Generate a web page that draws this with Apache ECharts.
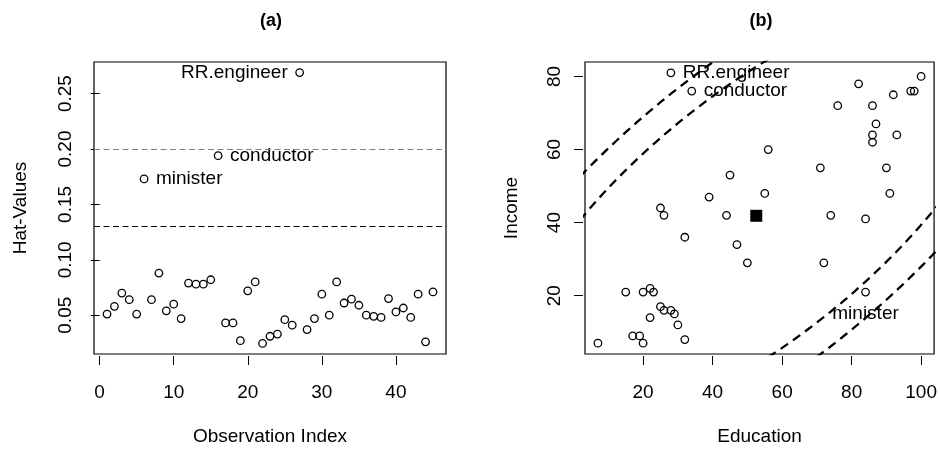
<!DOCTYPE html>
<html>
<head>
<meta charset="utf-8">
<script src="https://cdn.jsdelivr.net/npm/echarts@6/dist/echarts.min.js"></script>
<style>
  html, body { margin: 0; padding: 0; background: #fff; }
  #chart { width: 940px; height: 451px; }
</style>
</head>
<body>
<div id="chart"></div>
<script>
// hat-values, one per occupation (observation index 1..45)
const hatValues = [
  0.051, 0.058, 0.070, 0.064, 0.051, 0.173, 0.064, 0.088, 0.054, 0.060,
  0.047, 0.079, 0.078, 0.078, 0.082, 0.194, 0.043, 0.043, 0.027, 0.072,
  0.080, 0.0245, 0.031, 0.033, 0.046, 0.041, 0.269, 0.037, 0.047, 0.069,
  0.050, 0.080, 0.061, 0.0645, 0.059, 0.050, 0.049, 0.048, 0.065, 0.053,
  0.0565, 0.048, 0.069, 0.026, 0.071
]
// panel (b) data, same order
const education = [
  86, 76, 92, 90, 86, 84, 93, 100, 87, 86, 74, 98, 97, 84, 91, 34, 45, 56, 44, 82,
  72, 55, 71, 50, 23, 39, 28, 32, 22, 25, 29, 7, 26, 19, 15, 20, 26, 28, 17, 22,
  30, 25, 20, 47, 32
]
const income = [
  62, 72, 75, 55, 64, 21, 64, 80, 67, 72, 42, 76, 76, 41, 48, 76, 53, 60, 42, 78,
  29, 48, 55, 29, 21, 47, 81, 36, 22, 44, 15, 7, 42, 9, 21, 21, 16, 16, 9, 14,
  12, 17, 7, 34, 8
]
// labelled observations (1-based index)
const labelIndex = [6, 16, 27]
const labelText = ['minister', 'conductor', 'RR.engineer']
const labelPosA = ['right', 'right', 'left']
const labelPosB = ['bottom', 'right', 'right']

const xTicksA = [0, 10, 20, 30, 40]
const yTicksA = [0.05, 0.10, 0.15, 0.20, 0.25]
const xTicksB = [20, 40, 60, 80, 100]
const yTicksB = [20, 40, 60, 80]

const nCoef = 3
const n = hatValues.length
const hatCutoffs = [2 * nCoef / n, 3 * nCoef / n]

const FONT = 'Liberation Sans, Arial, sans-serif'

const mean = (a) => a.reduce((s, v) => s + v, 0) / a.length

// contour of constant leverage around the means of education and income
const leverageEllipse = (h) => {
  const mx = mean(education)
  const my = mean(income)
  let sxx = 0, syy = 0, sxy = 0
  education.forEach((x, i) => {
    sxx += (x - mx) * (x - mx)
    syy += (income[i] - my) * (income[i] - my)
    sxy += (x - mx) * (income[i] - my)
  })
  sxx /= n - 1; syy /= n - 1; sxy /= n - 1
  const sx = Math.sqrt(sxx), sy = Math.sqrt(syy), r = sxy / (sx * sy)
  const d = Math.sqrt(h * (n - 1))
  const pts = []
  for (let k = 0; k <= 360; k++) {
    const t = (k / 360) * 2 * Math.PI
    pts.push([mx + d * sx * Math.cos(t), my + d * sy * (r * Math.cos(t) + Math.sqrt(1 - r * r) * Math.sin(t))])
  }
  return pts
}

const makeAxis = (opts) => ({
  gridIndex: opts.grid,
  type: 'value',
  min: opts.min,
  max: opts.max,
  offset: 2,
  name: opts.name,
  nameLocation: 'middle',
  nameGap: opts.nameGap,
  nameTextStyle: { fontSize: 19, color: '#000', fontFamily: FONT },
  axisLine: { show: false },
  splitLine: { show: false },
  axisTick: { show: true, length: 9, customValues: opts.ticks, lineStyle: { color: '#000', width: 1 } },
  axisLabel: {
    customValues: opts.ticks,
    margin: opts.margin,
    rotate: opts.rotate || 0,
    fontSize: 19,
    color: '#000',
    fontFamily: FONT,
    formatter: opts.fmt
  }
})

const labelStyle = (pos) => ({
  show: true,
  position: pos,
  distance: pos === 'bottom' ? 8 : 7.5,
  fontSize: 19,
  color: '#000',
  fontFamily: FONT,
  formatter: '{b}'
})

const circle = { color: 'rgba(0,0,0,0)', borderColor: '#000', borderWidth: 1.3, opacity: 1 }

const dataA = hatValues.map((h, i) => {
  const k = labelIndex.indexOf(i + 1)
  const item = { name: k >= 0 ? labelText[k] : '', value: [i + 1, h] }
  if (k >= 0) item.label = labelStyle(labelPosA[k])
  return item
})
const dataB = education.map((e, i) => {
  const k = labelIndex.indexOf(i + 1)
  const item = { name: k >= 0 ? labelText[k] : '', value: [e, income[i]] }
  if (k >= 0) item.label = labelStyle(labelPosB[k])
  return item
})

const chart = echarts.init(document.getElementById('chart'))
const option = {
  animation: false,
  backgroundColor: '#fff',
  title: [
    { text: '(a)', left: 271, top: 12, textAlign: 'center', padding: 0,
      textStyle: { fontSize: 18, fontWeight: 'bold', color: '#000', fontFamily: FONT } },
    { text: '(b)', left: 761, top: 12, textAlign: 'center', padding: 0,
      textStyle: { fontSize: 18, fontWeight: 'bold', color: '#000', fontFamily: FONT } }
  ],
  grid: [
    { left: 94, top: 62, width: 352, height: 295, show: true, borderColor: '#000', borderWidth: 1.2, backgroundColor: 'transparent' },
    { left: 585, top: 62, width: 352, height: 295, show: true, borderColor: '#000', borderWidth: 1.2, backgroundColor: 'transparent' }
  ],
  xAxis: [
    makeAxis({ grid: 0, min: -0.76, max: 46.76, ticks: xTicksA, margin: 27, name: 'Observation Index', nameGap: 71 }),
    makeAxis({ grid: 1, min: 3.28, max: 103.72, ticks: xTicksB, margin: 27, name: 'Education', nameGap: 71 })
  ],
  yAxis: [
    makeAxis({ grid: 0, min: 0.015, max: 0.2785, ticks: yTicksA, margin: 17, rotate: 90, name: 'Hat-Values', nameGap: 62,
      fmt: (v) => v.toFixed(2) }),
    makeAxis({ grid: 1, min: 4.04, max: 83.96, ticks: yTicksB, margin: 19, rotate: 90, name: 'Income', nameGap: 62 })
  ],
  series: [
    {
      type: 'scatter', xAxisIndex: 0, yAxisIndex: 0,
      symbol: 'circle', symbolSize: 7.5, itemStyle: circle,
      data: dataA,
      markLine: {
        silent: true, symbol: ['none', 'none'], label: { show: false },
        data: [
          { yAxis: hatCutoffs[1], lineStyle: { color: '#808080', width: 1.2, type: [6, 3.5] } },
          { yAxis: hatCutoffs[0], lineStyle: { color: '#000', width: 1.2, type: [6, 3.5] } }
        ]
      }
    },
    {
      type: 'scatter', xAxisIndex: 1, yAxisIndex: 1,
      symbol: 'circle', symbolSize: 7.5, itemStyle: circle,
      data: dataB
    },
    {
      type: 'scatter', xAxisIndex: 1, yAxisIndex: 1,
      symbol: 'rect', symbolSize: 12, itemStyle: { color: '#000', opacity: 1 },
      data: [[mean(education), mean(income)]]
    },
    ...hatCutoffs.map((h) => ({
      type: 'line', xAxisIndex: 1, yAxisIndex: 1, z: 5,
      showSymbol: false, symbol: 'none', clip: true, silent: true,
      lineStyle: { color: '#000', width: 2.3, type: [9, 6] },
      data: leverageEllipse(h)
    }))
  ]
}
chart.setOption(option)
</script>
</body>
</html>
